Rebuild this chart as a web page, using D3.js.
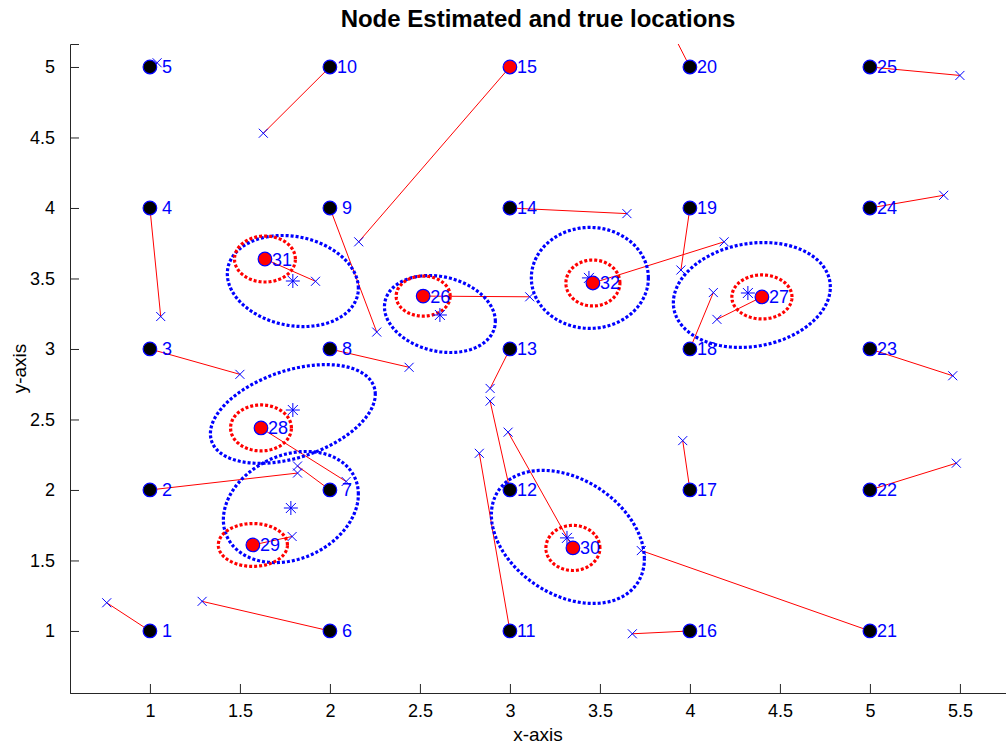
<!DOCTYPE html>
<html>
<head>
<meta charset="utf-8">
<script src="https://d3js.org/d3.v7.min.js"></script>
<style>
  body { margin: 0; background: #fff; }
  text { font-family: "Liberation Sans", Arial, sans-serif; }
  .narrow { font-family: "Liberation Sans Narrow", "Arial Narrow", "Liberation Sans", sans-serif; }
</style>
</head>
<body>
<div id="chart"></div>
<script>
// node ids 1..32 (1-25 anchors on a grid, 15 + 26-32 unknown)
const nodeIds = d3.range(1, 33);
const trueX = [1, 1, 1, 1, 1, 2, 2, 2, 2, 2, 3, 3, 3, 3, 3, 4, 4, 4, 4, 4, 5, 5, 5, 5, 5,
  2.518, 4.40, 1.617, 1.572, 3.35, 1.639, 3.461];
const trueY = [1, 2, 3, 4, 5, 1, 2, 3, 4, 5, 1, 2, 3, 4, 5, 1, 2, 3, 4, 5, 1, 2, 3, 4, 5,
  3.375, 3.369, 2.44, 1.61, 1.589, 3.638, 3.468];
// estimated locations (blue x)
const estX = [0.76, 1.82, 1.50, 1.06, 1.04, 1.29, 1.82, 2.44, 2.26, 1.63, 2.83, 2.89, 2.89, 3.65, 2.16,
  3.68, 3.96, 4.13, 3.95, 3.82, 3.73, 5.48, 5.46, 5.41, 5.50,
  3.11, 4.15, 2.09, 1.79, 2.99, 1.92, 4.19];
const estY = [1.20, 2.12, 2.82, 3.23, 5.03, 1.21, 2.17, 2.87, 3.12, 4.53, 2.26, 2.63, 2.72, 3.96, 3.76,
  0.98, 2.35, 3.40, 3.56, 5.45, 1.57, 2.19, 2.81, 4.09, 4.94,
  3.37, 3.21, 2.06, 1.67, 2.41, 3.48, 3.76];
const redIds = [15, 26, 27, 28, 29, 30, 31, 32];

// refined estimates (asterisks) for nodes 26..32
const starIds = [26, 27, 28, 29, 30, 31, 32];
const starX = [2.611, 4.322, 1.794, 1.783, 3.317, 1.794, 3.439];
const starY = [3.241, 3.397, 2.567, 1.872, 1.660, 3.482, 3.504];
// blue ellipses around the asterisks: half extents and correlation
const blueCx = [2.611, 4.344, 1.794, 1.783, 3.322, 1.794, 3.444];
const blueCy = [3.248, 3.383, 2.539, 1.879, 1.667, 3.482, 3.504];
const blueW = [0.308, 0.436, 0.458, 0.375, 0.425, 0.364, 0.325];
const blueH = [0.273, 0.372, 0.350, 0.394, 0.472, 0.323, 0.358];
const blueRho = [-0.19, 0.15, 0.40, 0.23, -0.33, -0.16, 0.0];
// red ellipses around the true positions
const redW = [0.150, 0.167, 0.169, 0.192, 0.150, 0.169, 0.150];
const redH = [0.142, 0.156, 0.163, 0.152, 0.160, 0.163, 0.163];

const xTicks = [1, 1.5, 2, 2.5, 3, 3.5, 4, 4.5, 5, 5.5];
const yTicks = [1, 1.5, 2, 2.5, 3, 3.5, 4, 4.5, 5];

const W = 1006, H = 747;
const margin = { top: 44, right: 0, bottom: 54, left: 70 };

const svg = d3.select('#chart').append('svg')
  .attr('width', W).attr('height', H);

const x = d3.scaleLinear().domain([0.556, 5.756]).range([margin.left, W - margin.right]);
const y = d3.scaleLinear().domain([0.56, 5.163]).range([H - margin.bottom, margin.top]);

svg.append('defs').append('clipPath').attr('id', 'clip')
  .append('rect')
  .attr('x', margin.left).attr('y', margin.top)
  .attr('width', W - margin.left - margin.right)
  .attr('height', H - margin.top - margin.bottom);

const plot = svg.append('g').attr('clip-path', 'url(#clip)');

// lines from true location to estimate
plot.selectAll('line.err')
  .data(nodeIds)
  .enter().append('line')
  .attr('class', 'err')
  .attr('x1', (d) => x(trueX[d - 1])).attr('y1', (d) => y(trueY[d - 1]))
  .attr('x2', (d) => x(estX[d - 1])).attr('y2', (d) => y(estY[d - 1]))
  .attr('stroke', '#ff0000').attr('stroke-width', 1);

function ellipse(cx, cy, w, h, rho) {
  const s = Math.sqrt(1 - rho * rho);
  return d3.range(0, 361, 2).map((a) => {
    const t = (a * Math.PI) / 180;
    return [x(cx + w * Math.cos(t)), y(cy + h * (rho * Math.cos(t) + s * Math.sin(t)))];
  });
}
const lineGen = d3.line();

// blue uncertainty ellipses
plot.selectAll('path.blue')
  .data(starIds)
  .enter().append('path')
  .attr('class', 'blue')
  .attr('d', (d, i) => lineGen(ellipse(blueCx[i], blueCy[i], blueW[i], blueH[i], blueRho[i])))
  .attr('fill', 'none').attr('stroke', '#0000ff')
  .attr('stroke-width', 3.2).attr('stroke-dasharray', '3 2');

// red ellipses
plot.selectAll('path.red')
  .data(starIds)
  .enter().append('path')
  .attr('class', 'red')
  .attr('d', (d, i) => lineGen(ellipse(trueX[d - 1], trueY[d - 1], redW[i], redH[i], 0)))
  .attr('fill', 'none').attr('stroke', '#ff0000')
  .attr('stroke-width', 3.2).attr('stroke-dasharray', '3 2');

// x markers
const xm = 4.5;
plot.selectAll('path.xm')
  .data(nodeIds)
  .enter().append('path')
  .attr('class', 'xm')
  .attr('d', (d) => {
    const px = x(estX[d - 1]), py = y(estY[d - 1]);
    return `M${px - xm},${py - xm}L${px + xm},${py + xm}M${px - xm},${py + xm}L${px + xm},${py - xm}`;
  })
  .attr('stroke', '#0000ff').attr('stroke-width', 1).attr('fill', 'none');

// asterisks
const sm = 7, sd = 5;
plot.selectAll('path.star')
  .data(starIds)
  .enter().append('path')
  .attr('class', 'star')
  .attr('d', (d, i) => {
    const px = x(starX[i]), py = y(starY[i]);
    return `M${px - sm},${py}L${px + sm},${py}M${px},${py - sm}L${px},${py + sm}` +
      `M${px - sd},${py - sd}L${px + sd},${py + sd}M${px - sd},${py + sd}L${px + sd},${py - sd}`;
  })
  .attr('stroke', '#0000ff').attr('stroke-width', 1).attr('fill', 'none');

// nodes
plot.selectAll('circle.node')
  .data(nodeIds)
  .enter().append('circle')
  .attr('class', 'node')
  .attr('cx', (d) => x(trueX[d - 1])).attr('cy', (d) => y(trueY[d - 1]))
  .attr('r', 6.8)
  .attr('fill', (d) => (redIds.includes(d) ? '#ff0000' : '#000000'))
  .attr('stroke', '#0000ff').attr('stroke-width', 1.2);

// node labels
plot.selectAll('text.lbl')
  .data(nodeIds)
  .enter().append('text')
  .attr('class', 'lbl')
  .attr('x', (d) => x(trueX[d - 1]) + 7)
  .attr('y', (d) => y(trueY[d - 1]) + 6.5)
  .attr('fill', '#0000ff')
  .attr('font-size', '18px')
  .attr('xml:space', 'preserve')
  .text((d) => (d < 10 ? ' ' + d : '' + d));

// axes
const gx = svg.append('g')
  .attr('transform', `translate(0,${H - margin.bottom})`)
  .call(d3.axisBottom(x).tickValues(xTicks).tickSize(-9).tickPadding(11).tickFormat(d3.format('')));
const gy = svg.append('g')
  .attr('transform', `translate(${margin.left},0)`)
  .call(d3.axisLeft(y).tickValues(yTicks).tickSize(-9).tickPadding(15).tickFormat(d3.format('')));

[gx, gy].forEach((g) => {
  g.select('.domain').attr('stroke', '#262626').attr('stroke-width', 1);
  g.selectAll('.tick line').attr('stroke', '#262626');
  g.selectAll('.tick text').attr('font-size', '18px').attr('fill', '#000')
    .attr('font-family', null).attr('class', 'narrow');
});

svg.append('text')
  .attr('x', (margin.left + W) / 2).attr('y', 27)
  .attr('text-anchor', 'middle')
  .attr('font-size', '24px').attr('font-weight', 'bold')
  .text('Node Estimated and true locations');

svg.append('text')
  .attr('class', 'narrow')
  .attr('x', (margin.left + W) / 2).attr('y', 741)
  .attr('text-anchor', 'middle')
  .attr('font-size', '19px')
  .text('x-axis');

svg.append('text')
  .attr('class', 'narrow')
  .attr('transform', `translate(26,${(margin.top + H - margin.bottom) / 2}) rotate(-90)`)
  .attr('text-anchor', 'middle')
  .attr('font-size', '19px')
  .text('y-axis');
</script>
</body>
</html>
